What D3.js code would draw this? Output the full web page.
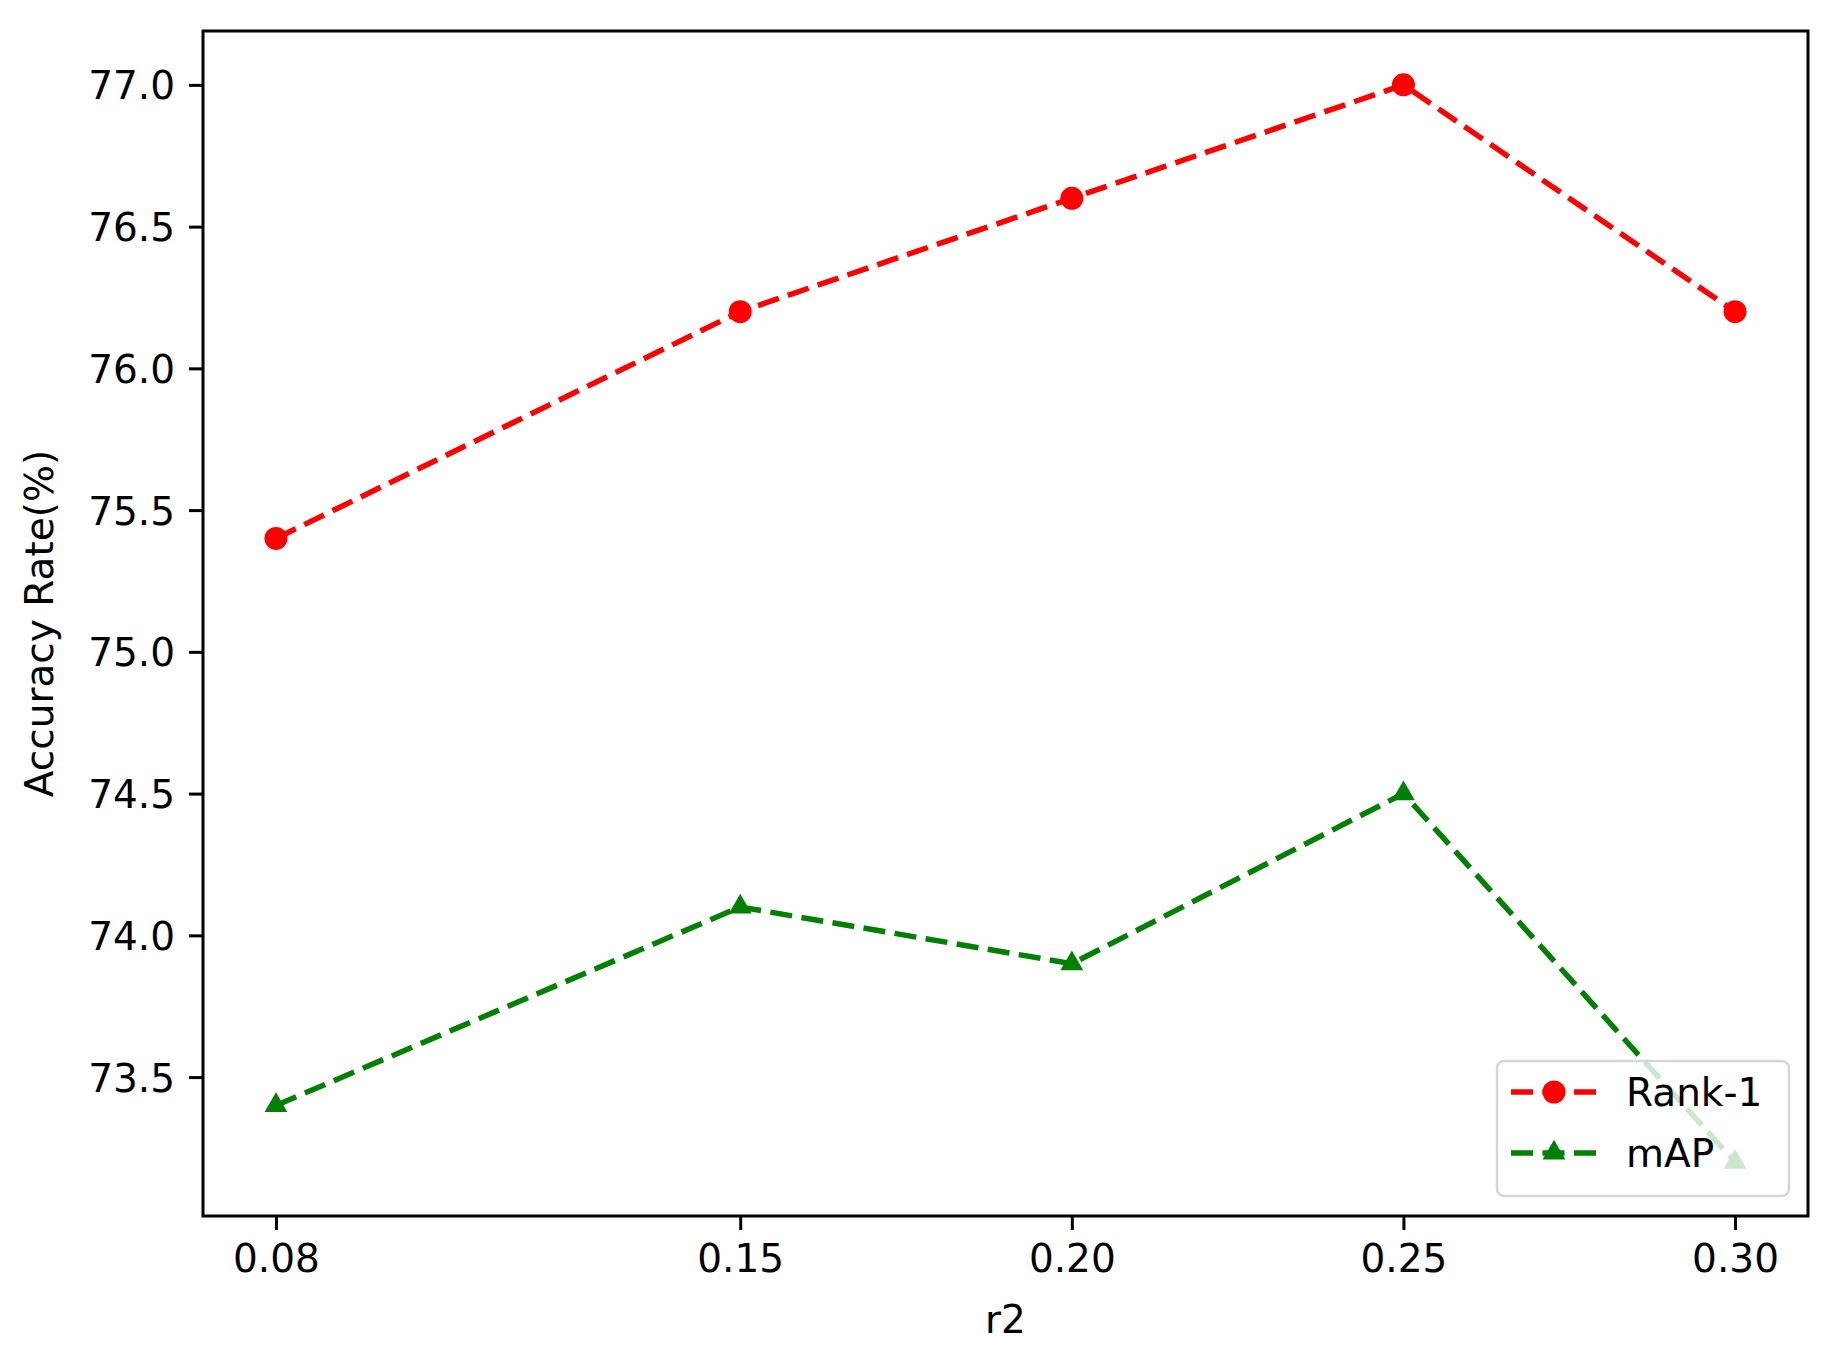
<!DOCTYPE html>
<html>
<head>
<meta charset="utf-8">
<script src="https://cdn.jsdelivr.net/npm/d3@7"></script>
<style>
  html, body { margin: 0; padding: 0; background: #fff; }
  svg { display: block; }
  text { font-family: "DejaVu Sans", sans-serif; fill: #000; }
</style>
</head>
<body>
<script>
// ---- data ----
const xValues = [0.08, 0.15, 0.20, 0.25, 0.30];
const xTickLabels = ["0.08", "0.15", "0.20", "0.25", "0.30"];
const rank1 = [75.4, 76.2, 76.6, 77.0, 76.2];
const mAP = [73.4, 74.1, 73.9, 74.5, 73.2];
const yTicks = [73.5, 74.0, 74.5, 75.0, 75.5, 76.0, 76.5, 77.0];
const seriesNames = ["Rank-1", "mAP"];
const xLabel = "r2";
const yLabel = "Accuracy Rate(%)";

// ---- layout ----
const W = 1827, H = 1358;
const L = 203, R = 1808, T = 31, B = 1216;
const fontSize = 39;

const svg = d3.select("body").append("svg").attr("width", W).attr("height", H);

const xMin = d3.min(xValues), xMax = d3.max(xValues);
const xPad = (xMax - xMin) * 0.05;
const allY = rank1.concat(mAP);
const yMin = d3.min(allY), yMax = d3.max(allY);
const yPad = (yMax - yMin) * 0.05;

const x = d3.scaleLinear().domain([xMin - xPad, xMax + xPad]).range([L, R]);
const y = d3.scaleLinear().domain([yMin - yPad, yMax + yPad]).range([B, T]);

// axes
const xAxis = d3.axisBottom(x).tickValues(xValues)
  .tickFormat((d, i) => xTickLabels[i]).tickSizeInner(14).tickSizeOuter(0).tickPadding(14);
const yAxis = d3.axisLeft(y).tickValues(yTicks)
  .tickFormat(d3.format(".1f")).tickSizeInner(14).tickSizeOuter(0).tickPadding(14);

const gx = svg.append("g").attr("transform", `translate(0,${B})`).call(xAxis);
const gy = svg.append("g").attr("transform", `translate(${L},0)`).call(yAxis);
[gx, gy].forEach(g => {
  g.select(".domain").remove();
  g.selectAll(".tick line").attr("stroke", "#000").attr("stroke-width", 3);
  g.selectAll(".tick text").attr("font-size", fontSize).attr("font-family", "DejaVu Sans").attr("fill", "#000");
});
gx.selectAll(".tick text").attr("dy", "0.71em");
gy.selectAll(".tick text").attr("dy", "0.36em");

// lines
const line = d3.line().x((d, i) => x(xValues[i])).y(d => y(d));
const plotG = svg.append("g");
plotG.append("path").datum(rank1).attr("d", line)
  .attr("fill", "none").attr("stroke", "#ff0000").attr("stroke-width", 5.5)
  .attr("stroke-dasharray", "22,9.5");
plotG.selectAll("circle.r").data(rank1).enter().append("circle")
  .attr("cx", (d, i) => x(xValues[i])).attr("cy", d => y(d)).attr("r", 11.5).attr("fill", "#ff0000");

plotG.append("path").datum(mAP).attr("d", line)
  .attr("fill", "none").attr("stroke", "#008000").attr("stroke-width", 5.5)
  .attr("stroke-dasharray", "22,9.5");
const tri = d3.symbol().type(d3.symbolTriangle).size(225);
plotG.selectAll("path.m").data(mAP).enter().append("path")
  .attr("d", tri)
  .attr("transform", (d, i) => `translate(${x(xValues[i])},${y(d)})`)
  .attr("fill", "#008000");

// frame
svg.append("rect").attr("x", L).attr("y", T).attr("width", R - L).attr("height", B - T)
  .attr("fill", "none").attr("stroke", "#000").attr("stroke-width", 3);

// legend
const lg = svg.append("g");
lg.append("rect").attr("x", 1497).attr("y", 1061).attr("width", 292).attr("height", 135)
  .attr("rx", 7).attr("fill", "#fff").attr("fill-opacity", 0.8)
  .attr("stroke", "#cccccc").attr("stroke-opacity", 0.8).attr("stroke-width", 2.5);
const rows = [
  { name: seriesNames[0], color: "#ff0000", y: 1092, marker: "circle" },
  { name: seriesNames[1], color: "#008000", y: 1153, marker: "tri" }
];
rows.forEach(r => {
  lg.append("line").attr("x1", 1511).attr("x2", 1597).attr("y1", r.y).attr("y2", r.y)
    .attr("stroke", r.color).attr("stroke-width", 5.5).attr("stroke-dasharray", "22,9.5");
  if (r.marker === "circle") {
    lg.append("circle").attr("cx", 1554).attr("cy", r.y).attr("r", 11.5).attr("fill", r.color);
  } else {
    lg.append("path").attr("d", tri).attr("transform", `translate(1554,${r.y})`).attr("fill", r.color);
  }
  lg.append("text").attr("x", 1626).attr("y", r.y).attr("dy", "0.36em")
    .attr("font-size", fontSize).text(r.name);
});

// axis labels
svg.append("text").attr("x", (L + R) / 2).attr("y", 1333).attr("text-anchor", "middle")
  .attr("font-size", fontSize).text(xLabel);
svg.append("text").attr("transform", `translate(53,${(T + B) / 2}) rotate(-90)`)
  .attr("text-anchor", "middle").attr("font-size", fontSize).text(yLabel);
</script>
</body>
</html>
